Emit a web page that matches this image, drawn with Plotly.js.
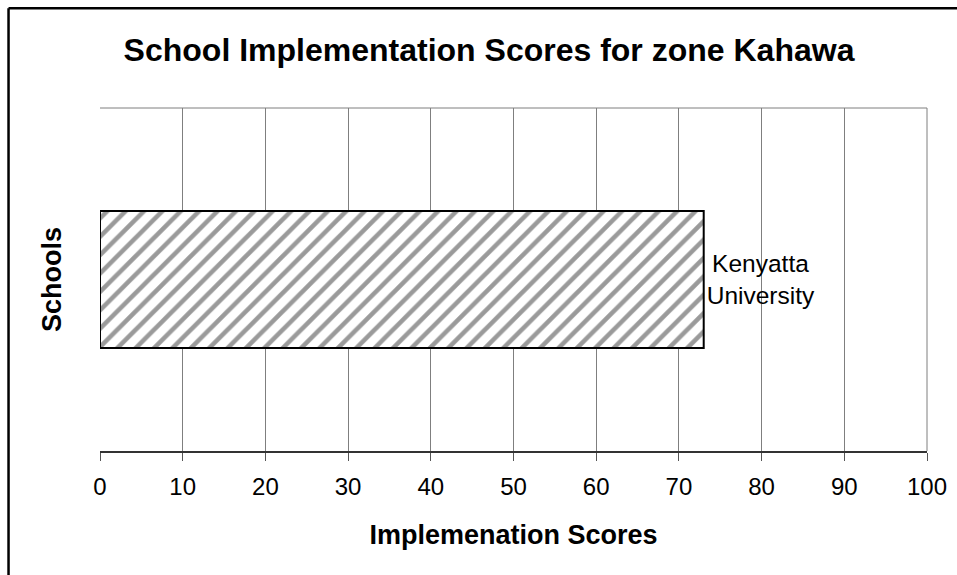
<!DOCTYPE html>
<html>
<head>
<meta charset="utf-8">
<script src="https://cdn.plot.ly/plotly-3.0.1.min.js"></script>
<style>html,body{margin:0;padding:0;background:#fff;}#chart{width:957px;height:575px;}</style>
</head>
<body>
<div id="chart"></div>
<script>
const schools = ["Kenyatta<br>University"];
const scores = [73];
const tickVals = [0, 10, 20, 30, 40, 50, 60, 70, 80, 90, 100];
const tickLabels = ["0", "10", "20", "30", "40", "50", "60", "70", "80", "90", "100"];

const trace = {
  type: "bar",
  orientation: "h",
  x: scores,
  y: [0],
  width: 0.4,
  text: schools,
  textposition: "outside",
  constraintext: "none",
  cliponaxis: false,
  textfont: {family: "Liberation Sans, Arial, sans-serif", size: 24.5, color: "#000"},
  marker: {
    color: "#ffffff",
    line: {color: "#000", width: 2},
    pattern: {shape: "/", fgcolor: "#9a9a9a", bgcolor: "#ffffff", size: 13, solidity: 0.35}
  },
  hoverinfo: "none"
};

const layout = {
  width: 957, height: 575,
  margin: {l: 100, r: 30, t: 108, b: 124, pad: 0},
  paper_bgcolor: "#fff", plot_bgcolor: "#fff",
  showlegend: false,
  font: {family: "Liberation Sans, Arial, sans-serif", color: "#000"},
  title: {
    text: "<b>School Implementation Scores for zone Kahawa</b>",
    font: {size: 32, color: "#000"},
    x: 0.511, xanchor: "center", y: 0.913, yanchor: "middle"
  },
  xaxis: {
    range: [0, 100], tickvals: tickVals, ticktext: tickLabels,
    showgrid: true, gridcolor: "#7f7f7f", gridwidth: 1,
    zeroline: false,
    showline: true, linecolor: "#333", linewidth: 2,
    mirror: false,
    ticks: "outside", ticklen: 8, tickcolor: "#555", tickwidth: 1,
    ticklabelstandoff: 5,
    tickfont: {size: 24, color: "#000"},
    title: {text: "<b>Implemenation Scores</b>", font: {size: 27, color: "#000"}, standoff: 26},
    fixedrange: true
  },
  yaxis: {
    range: [-0.5, 0.5], showticklabels: false, showgrid: false, zeroline: false,
    showline: false, ticks: "",
    title: {text: "<b>Schools</b>", font: {size: 27, color: "#000"}, standoff: 29},
    fixedrange: true
  },
  shapes: [
    {type: "line", xref: "paper", yref: "paper", x0: 0, x1: 1, y0: 1, y1: 1, line: {color: "#7f7f7f", width: 1}, layer: "below"},
    {type: "line", xref: "paper", yref: "paper", x0: 1, x1: 1, y0: 0, y1: 1, line: {color: "#7f7f7f", width: 1}, layer: "below"},
    {type: "line", xref: "paper", yref: "paper", x0: -0.1106, x1: -0.1106, y0: -0.5, y1: 1.2905, line: {color: "#000", width: 2.5}},
    {type: "line", xref: "paper", yref: "paper", x0: -0.1106, x1: 1.2, y0: 1.2905, y1: 1.2905, line: {color: "#000", width: 2.5}}
  ]
};

Plotly.newPlot("chart", [trace], layout, {staticPlot: true, displayModeBar: false});
</script>
</body>
</html>
